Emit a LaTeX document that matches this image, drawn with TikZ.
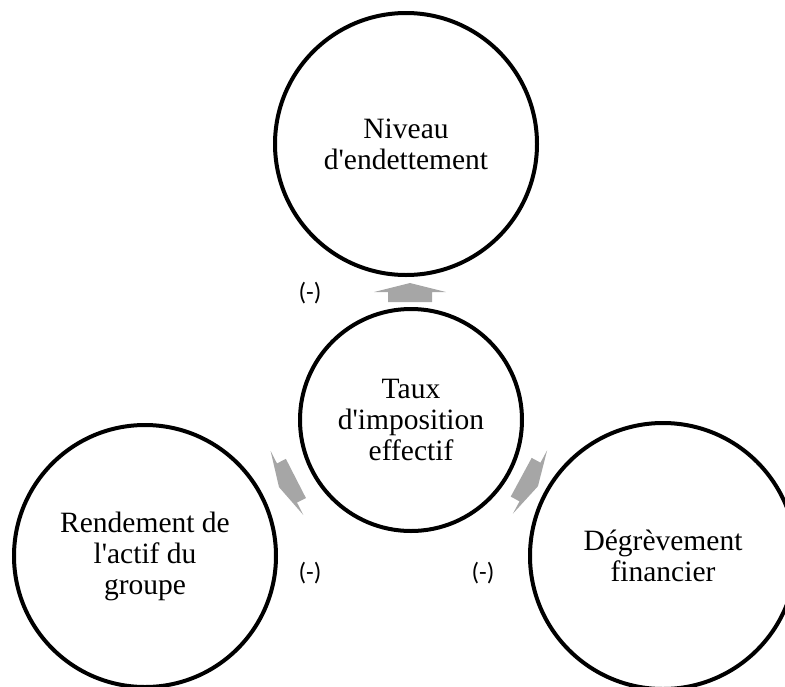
\documentclass[tikz,border=0pt]{standalone}
\usepackage{fontspec}
\setmainfont{Liberation Serif}
\newfontfamily\labfont{Carlito}
\definecolor{arrowgray}{RGB}{166,166,166}
\newcommand{\blockarr}[3]{%
  \begin{scope}[shift={(#1,#2)}, rotate=#3]
    \fill[arrowgray] (9,0) -- (0,36) -- (0,22) -- (-10,22) -- (-10,-22) -- (0,-22) -- (0,-36) -- cycle;
  \end{scope}}
\begin{document}
\begin{tikzpicture}[x=1pt,y=-1pt,
  bubble/.style={circle, draw=black, line width=4pt, inner sep=0pt, align=center,
     font=\fontsize{29.5}{31}\selectfont},
  sign/.style={font=\labfont\fontsize{25}{28}\selectfont, inner sep=0pt}]
\useasboundingbox (0,0) rectangle (785,686);
\node[bubble, minimum size=262pt] (top) at (406,144) {Niveau\\d\textquotesingle endettement};
\node[bubble, minimum size=222pt] (mid) at (411,420) {Taux\\d\textquotesingle imposition\\effectif};
\node[bubble, minimum size=262pt] (left) at (145,556) {Rendement de\\l\textquotesingle actif du\\groupe};
\node[bubble, minimum size=266pt] (right) at (663,556) {Dégrèvement\\financier};
\blockarr{410}{292}{90}
\blockarr{287}{483}{-152.9}
\blockarr{530}{482}{-28.4}
\node[sign] (s1) at (310,293) {(-)};
\node[sign] (s2) at (310,573) {(-)};
\node[sign] (s3) at (483,573) {(-)};
\end{tikzpicture}
\end{document}
